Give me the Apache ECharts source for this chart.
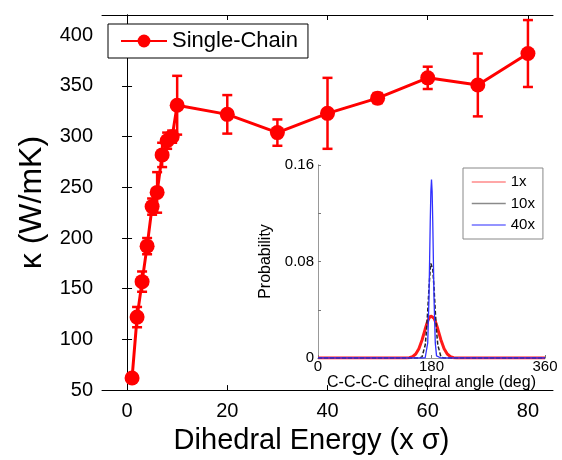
<!DOCTYPE html>
<html>
<head>
<meta charset="utf-8">
<script src="https://cdn.jsdelivr.net/npm/echarts@6/dist/echarts.min.js"></script>
<style>
html,body{margin:0;padding:0;background:#fff;}
#c{width:562px;height:460px;}
</style>
</head>
<body>
<div id="c"></div>
<script>
// Main chart data
const energy = [1, 2, 3, 4, 5, 6, 7, 8, 9, 10, 20, 30, 40, 50, 60, 70, 80];
const kappa  = [62, 122, 157, 192, 231, 245, 282, 296, 300, 331, 322, 304, 323, 338, 358, 351, 382];
const kErr   = [0, 10, 10, 8, 8, 20, 12, 8, 6, 29, 19, 13, 35, 5, 11, 31, 33];
const xTicks = [0, 20, 40, 60, 80];
const yTicks = [50, 100, 150, 200, 250, 300, 350, 400];

// Inset data (dihedral angle distributions)
const angles = [0, 120, 130, 140, 145, 150, 155, 160, 165, 170, 172, 174, 176, 178, 179, 180,
                181, 182, 184, 186, 188, 190, 195, 200, 205, 210, 215, 220, 230, 240, 360];
const prob1x  = [0, 0, 0, 0.0001, 0.0003, 0.0012, 0.0033, 0.0077, 0.0149, 0.024, 0.0275, 0.0305, 0.033, 0.0345, 0.0349, 0.035,
                 0.0349, 0.0345, 0.033, 0.0305, 0.0275, 0.024, 0.0149, 0.0077, 0.0033, 0.0012, 0.0003, 0.0001, 0, 0, 0];
const prob10x = [0, 0, 0, 0, 0, 0, 0, 0, 0.0009, 0.0108, 0.0222, 0.039, 0.0581, 0.0738, 0.0784, 0.08,
                 0.0784, 0.0738, 0.0581, 0.039, 0.0222, 0.0108, 0.0009, 0, 0, 0, 0, 0, 0, 0, 0];
const prob40x = [0, 0, 0, 0, 0, 0, 0, 0, 0, 0.0002, 0.0018, 0.0125, 0.0494, 0.1125, 0.138, 0.148,
                 0.138, 0.1125, 0.0494, 0.0125, 0.0018, 0.0002, 0, 0, 0, 0, 0, 0, 0, 0, 0];
const insetXTicks = [0, 180, 360];
const insetYLabels = [0, 0.08, 0.16];

const FONT = '"Liberation Sans", Arial, sans-serif';
const chart = echarts.init(document.getElementById('c'), null, {renderer: 'canvas'});

const mainLine = energy.map((x, i) => [x, kappa[i]]);
const errData = energy.map((x, i) => [x, kappa[i] - kErr[i], kappa[i] + kErr[i]]);
const mk = arr => angles.map((a, i) => [a, arr[i]]);

const frameAxis = {color: '#000', width: 1};

chart.setOption({
  animation: false,
  backgroundColor: '#fff',
  grid: [
    {left: 102, right: 9, top: 15, bottom: 63},
    {left: 318, top: 165, width: 227, height: 193}
  ],
  legend: [
    {
      data: ['Single-Chain'],
      left: 108, top: 24,
      orient: 'horizontal',
      padding: [6, 10, 6, 12],
      itemWidth: 46, itemHeight: 16, itemGap: 6,
      borderColor: '#000', borderWidth: 1, backgroundColor: '#fff', borderRadius: 0,
      textStyle: {fontFamily: FONT, fontSize: 22, color: '#000'}
    },
    {
      data: [
        {name: '1x', itemStyle: {opacity: 0}, lineStyle: {color: '#ff8a8a', width: 1.5, type: 'solid'}},
        {name: '10x', itemStyle: {opacity: 0}, lineStyle: {color: '#8a8a8a', width: 1.5, type: 'solid'}},
        {name: '40x', itemStyle: {opacity: 0}, lineStyle: {color: '#7070ff', width: 1.5, type: 'solid'}}
      ],
      left: 463, top: 168,
      orient: 'vertical',
      padding: [5, 8, 5, 8],
      itemWidth: 34, itemHeight: 14, itemGap: 3.5,
      borderColor: '#888', borderWidth: 1, backgroundColor: '#fff', borderRadius: 0,
      textStyle: {fontFamily: FONT, fontSize: 15, color: '#000', lineHeight: 18}
    }
  ],
  xAxis: [
    {
      gridIndex: 0, type: 'value', min: -5, max: 85, position: 'bottom',
      axisLine: {show: true, lineStyle: frameAxis},
      axisTick: {show: true, inside: true, length: 5, customValues: xTicks, lineStyle: {color: '#000'}},
      axisLabel: {customValues: xTicks, fontFamily: FONT, fontSize: 20, color: '#000', margin: 11},
      splitLine: {show: false},
      name: 'Dihedral Energy (x \u03c3)', nameLocation: 'middle', nameGap: 29,
      nameTextStyle: {fontFamily: FONT, fontSize: 29, color: '#000', padding: [0, 32, 0, 0], verticalAlign: 'top'}
    },
    {
      gridIndex: 0, type: 'value', min: -5, max: 85, position: 'top',
      axisLine: {show: true, lineStyle: frameAxis},
      axisTick: {show: true, inside: true, length: 5, customValues: xTicks, lineStyle: {color: '#000'}},
      axisLabel: {show: false}, splitLine: {show: false}
    },
    {
      gridIndex: 1, type: 'value', min: 0, max: 360, position: 'bottom',
      axisLine: {show: true, lineStyle: {color: '#999', width: 1}},
      axisTick: {show: true, inside: true, length: 3, customValues: insetXTicks, lineStyle: {color: '#777'}},
      axisLabel: {customValues: insetXTicks, fontFamily: FONT, fontSize: 15, color: '#000', margin: 1},
      splitLine: {show: false},
      name: 'C-C-C-C dihedral angle (deg)', nameLocation: 'middle', nameGap: 16,
      nameTextStyle: {fontFamily: FONT, fontSize: 16, color: '#000', verticalAlign: 'top'}
    },
    {
      gridIndex: 1, type: 'value', min: 0, max: 360, position: 'top',
      axisLine: {show: true, lineStyle: {color: '#999', width: 1}},
      axisTick: {show: false}, axisLabel: {show: false}, splitLine: {show: false}
    }
  ],
  yAxis: [
    {
      gridIndex: 0, type: 'value', min: 50, max: 420, position: 'left',
      axisLine: {show: true, lineStyle: frameAxis},
      axisTick: {show: true, inside: true, length: 5, customValues: yTicks, lineStyle: {color: '#000'}},
      axisLabel: {customValues: yTicks, fontFamily: FONT, fontSize: 20, color: '#000', margin: 9},
      splitLine: {show: false},
      name: '\u03ba (W/mK)', nameLocation: 'middle', nameGap: 54,
      nameTextStyle: {fontFamily: FONT, fontSize: 32, color: '#000'}
    },
    {
      gridIndex: 0, type: 'value', min: 50, max: 420, position: 'right',
      axisLine: {show: true, lineStyle: frameAxis},
      axisTick: {show: true, inside: true, length: 5, customValues: yTicks, lineStyle: {color: '#000'}},
      axisLabel: {show: false}, splitLine: {show: false}
    },
    {
      gridIndex: 1, type: 'value', min: 0, max: 0.16, interval: 0.04, position: 'left',
      axisLine: {show: true, lineStyle: {color: '#999', width: 1}},
      axisTick: {show: true, inside: true, length: 3, lineStyle: {color: '#777'}},
      axisLabel: {
        fontFamily: FONT, fontSize: 15, color: '#000', margin: 4,
        formatter: v => insetYLabels.some(t => Math.abs(v - t) < 1e-9) ? (v === 0 ? '0' : v.toFixed(2)) : ''
      },
      splitLine: {show: false},
      name: 'Probability', nameLocation: 'middle', nameGap: 44,
      nameTextStyle: {fontFamily: FONT, fontSize: 16, color: '#000'}
    },
    {
      gridIndex: 1, type: 'value', min: 0, max: 0.16, position: 'right',
      axisLine: {show: true, lineStyle: {color: '#999', width: 1}},
      axisTick: {show: false}, axisLabel: {show: false}, splitLine: {show: false}
    }
  ],
  series: [
    {
      type: 'custom', name: 'err', xAxisIndex: 0, yAxisIndex: 0, data: errData, z: 3,
      renderItem: function (params, api) {
        const x = api.value(0), lo = api.value(1), hi = api.value(2);
        if (hi - lo <= 0) return null;
        const pHi = api.coord([x, hi]);
        const pLo = api.coord([x, lo]);
        const w = 5;
        const st = {stroke: '#ff0000', lineWidth: 2.5};
        return {
          type: 'group',
          children: [
            {type: 'line', shape: {x1: pHi[0], y1: pHi[1], x2: pLo[0], y2: pLo[1]}, style: st},
            {type: 'line', shape: {x1: pHi[0] - w, y1: pHi[1], x2: pHi[0] + w, y2: pHi[1]}, style: st},
            {type: 'line', shape: {x1: pLo[0] - w, y1: pLo[1], x2: pLo[0] + w, y2: pLo[1]}, style: st}
          ]
        };
      }
    },
    {
      type: 'line', name: 'Single-Chain', xAxisIndex: 0, yAxisIndex: 0, data: mainLine, z: 4,
      symbol: 'circle', symbolSize: 15, showAllSymbol: true,
      lineStyle: {color: '#ff0000', width: 3},
      itemStyle: {color: '#ff0000'}
    },
    {
      type: 'line', name: '1x', xAxisIndex: 2, yAxisIndex: 2, data: mk(prob1x),
      symbol: 'none', lineStyle: {color: '#ff1a1a', width: 3}, itemStyle: {color: '#ff8a8a'}
    },
    {
      type: 'line', name: '10x', xAxisIndex: 2, yAxisIndex: 2, data: mk(prob10x),
      symbol: 'none', lineStyle: {color: '#222', width: 1.5, type: [4, 2]}, itemStyle: {color: '#8a8a8a'}
    },
    {
      type: 'line', name: '40x', xAxisIndex: 2, yAxisIndex: 2, data: mk(prob40x),
      symbol: 'none', lineStyle: {color: '#3030ff', width: 1.3}, itemStyle: {color: '#7070ff'}
    }
  ]
});
</script>
</body>
</html>
